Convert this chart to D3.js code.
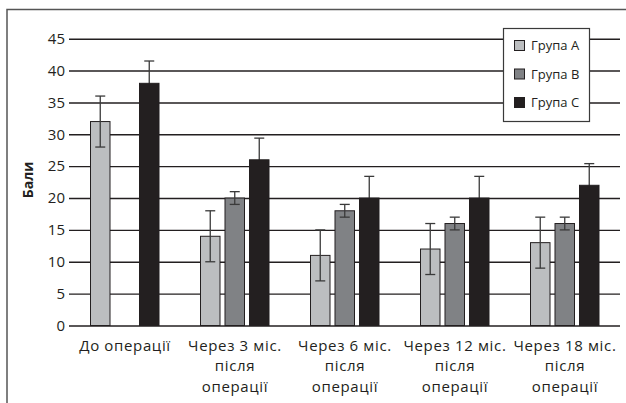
<!DOCTYPE html>
<html><head><meta charset="utf-8">
<script src="https://cdn.jsdelivr.net/npm/d3@7"></script>
<style>
html,body{margin:0;padding:0;background:#fff;}
svg{display:block;}
text{font-family:"Open Sans",sans-serif;fill:#231f20;}
</style></head>
<body>
<svg id="c" width="626" height="403"></svg>
<script>
const categories = [
  ["До операції"],
  ["Через 3 міс.", "після", "операції"],
  ["Через 6 міс.", "після", "операції"],
  ["Через 12 міс.", "після", "операції"],
  ["Через 18 міс.", "після", "операції"]
];
const seriesNames = ["Група А", "Група В", "Група С"];
const groupA = [32, 14, 11, 12, 13];
const groupB = [null, 20, 18, 16, 16];
const groupC = [38, 26, 20, 20, 22];
const errA = [4, 4, 4, 4, 4];
const errB = [null, 1, 1, 1, 1];
const errC = [3.5, 3.4, 3.4, 3.4, 3.4];
const yTicks = [0, 5, 10, 15, 20, 25, 30, 35, 40, 45];
const colors = ["#bcbec0", "#808285", "#231f20"];

const svg = d3.select("#c");
// outer frame (extends beyond window on right/bottom)
svg.append("rect").attr("x", 7).attr("y", 9.5).attr("width", 640).attr("height", 420)
  .attr("fill", "none").attr("stroke", "#555").attr("stroke-width", 1.5);

const catKeys = categories.map((c, i) => i);
const x = d3.scaleBand().domain(catKeys).range([70, 620]).paddingInner(0).paddingOuter(0);
const xs = d3.scaleBand().domain([0, 1, 2]).range([20.5, 89]).paddingInner(0.204).paddingOuter(0);
const y = d3.scaleLinear().domain([0, 45]).range([325.5, 38.7]);

// gridlines + ticks
const yAxis = d3.axisLeft(y).tickValues(yTicks).tickSize(-551).tickPadding(4).tickFormat(d3.format("d"));
const ga = svg.append("g").attr("transform", "translate(69,0)").call(yAxis);
ga.select(".domain").remove();
ga.selectAll(".tick line").attr("stroke", "#231f20").attr("stroke-width", 1.4);
ga.selectAll(".tick text").attr("font-size", 15).attr("fill", "#231f20")
  .style("font-family", "'Open Sans',sans-serif");

const series = [groupA, groupB, groupC];
const errs = [errA, errB, errC];
function drawErr(si) {
  series[si].forEach((v, ci) => {
    const e = errs[si][ci];
    if (v == null || e == null) return;
    const cx = x(ci) + xs(si) + xs.bandwidth() / 2;
    const g = svg.append("g").attr("stroke", "#3a3a3a").attr("stroke-width", 1.3);
    g.append("line").attr("x1", cx).attr("x2", cx).attr("y1", y(v + e)).attr("y2", y(v - e));
    g.append("line").attr("x1", cx - 5).attr("x2", cx + 5).attr("y1", y(v + e)).attr("y2", y(v + e));
    g.append("line").attr("x1", cx - 5).attr("x2", cx + 5).attr("y1", y(v - e)).attr("y2", y(v - e));
  });
}
// group C error bars sit behind the black bars (only the upper whisker shows)
drawErr(2);
series.forEach((vals, si) => {
  const g = svg.append("g");
  vals.forEach((v, ci) => {
    if (v == null) return;
    const bx = x(ci) + xs(si);
    g.append("rect").attr("x", bx).attr("y", y(v)).attr("width", xs.bandwidth())
      .attr("height", y(0) - y(v)).attr("fill", colors[si]).attr("stroke", "#231f20").attr("stroke-width", 1);
  });
});
drawErr(0);
drawErr(1);

// x labels, one text per line
categories.forEach((lines, ci) => {
  lines.forEach((ln, li) => {
    svg.append("text").attr("text-anchor", "middle").attr("font-size", 15)
      .attr("letter-spacing", "0.65px")
      .attr("x", x(ci) + x.bandwidth() / 2).attr("y", 350.5 + li * 20.5).text(ln);
  });
});

// y title
svg.append("text").attr("transform", "translate(33,180) rotate(-90)").attr("text-anchor", "middle")
  .attr("font-size", 14).attr("font-weight", "bold").text("Бали");

// legend
const lg = svg.append("g");
lg.append("rect").attr("x", 503.5).attr("y", 28.5).attr("width", 86).attr("height", 93)
  .attr("fill", "#fff").attr("stroke", "#3a3a3a").attr("stroke-width", 1.2);
seriesNames.forEach((n, i) => {
  const cy = 45.5 + i * 28.5;
  lg.append("rect").attr("x", 514.5).attr("y", cy - 5).attr("width", 10).attr("height", 10)
    .attr("fill", colors[i]).attr("stroke", "#231f20").attr("stroke-width", 1);
  lg.append("text").attr("x", 531).attr("y", cy + 4.5).attr("font-size", 13).text(n);
});
</script>
</body></html>
